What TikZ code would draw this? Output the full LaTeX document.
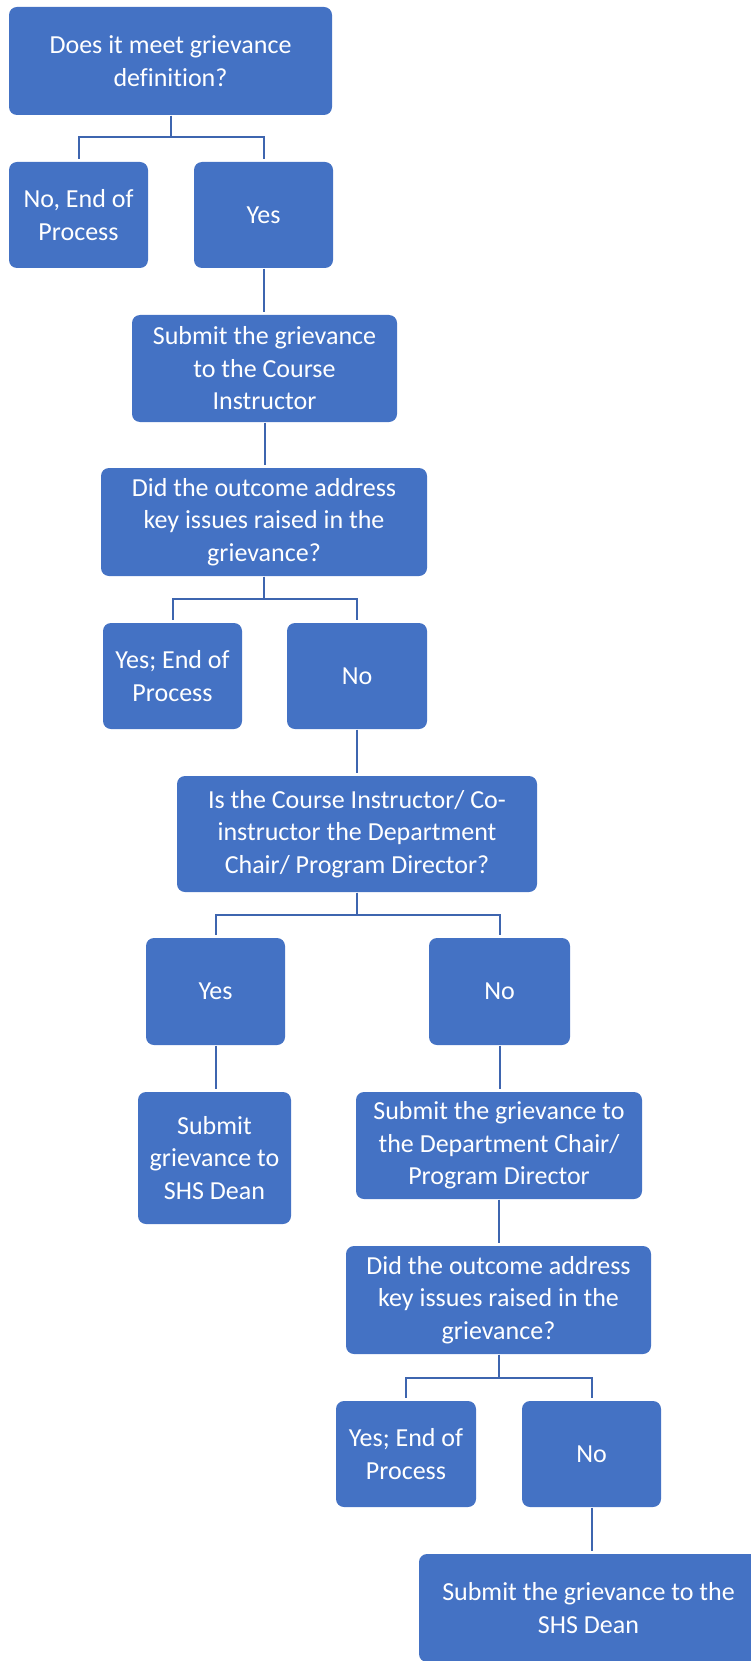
\documentclass[tikz,border=0pt]{standalone}
\usepackage{fontspec}
\setmainfont[Ligatures=NoCommon]{Carlito}
\definecolor{boxblue}{HTML}{4472C4}
\definecolor{lineblue}{HTML}{3E65AF}
\begin{document}
\begin{tikzpicture}[x=1pt,y=-1pt,
  box/.style={fill=boxblue, rounded corners=8pt, text=white, align=center,
    inner sep=0pt, font=\fontsize{26}{32.5}\selectfont},
  conn/.style={draw=lineblue, line width=2pt, shorten >=2.5pt, shorten <=0.5pt}]
\useasboundingbox (0,0) rectangle (751,1661);
\node[box, minimum width=323pt, minimum height=108pt] (q1) at (170.5,61) {Does it meet grievance\\definition?};
\node[box, minimum width=139pt, minimum height=106pt] (n1) at (78.5,215) {No, End of\\Process};
\node[box, minimum width=139pt, minimum height=106pt] (y1) at (263.5,215) {Yes};
\node[box, minimum width=265pt, minimum height=107pt] (s1) at (264.5,368.5) {Submit the grievance\\to the Course\\Instructor};
\node[box, minimum width=326pt, minimum height=108pt] (q2) at (264,522) {Did the outcome address\\key issues raised in the\\grievance?};
\node[box, minimum width=139pt, minimum height=106pt] (y2) at (172.5,676) {Yes; End of\\Process};
\node[box, minimum width=140pt, minimum height=106pt] (n2) at (357,676) {No};
\node[box, minimum width=360pt, minimum height=116pt] (q3) at (357,834) {Is the Course Instructor/ Co-\\instructor the Department\\Chair/ Program Director?};
\node[box, minimum width=139pt, minimum height=107pt] (y3) at (215.5,991.5) {Yes};
\node[box, minimum width=141pt, minimum height=107pt] (n3) at (499.5,991.5) {No};
\node[box, minimum width=153pt, minimum height=132pt] (s2) at (214.5,1158) {Submit\\grievance to\\SHS Dean};
\node[box, minimum width=286pt, minimum height=107pt] (s3) at (499,1145.5) {Submit the grievance to\\the Department Chair/\\Program Director};
\node[box, minimum width=305pt, minimum height=108pt] (q4) at (498.5,1300) {Did the outcome address\\key issues raised in the\\grievance?};
\node[box, minimum width=140pt, minimum height=106pt] (y4) at (406,1454) {Yes; End of\\Process};
\node[box, minimum width=139pt, minimum height=106pt] (n4) at (591.5,1454) {No};
\node[box, minimum width=339pt, minimum height=108pt] (s4) at (588.5,1608) {Submit the grievance to the\\SHS Dean};
% connectors
\draw[conn] (q1.south) -- ++(0,22) -| (n1.north);
\draw[conn] (q1.south) -- ++(0,22) -| (y1.north);
\draw[conn] (y1.south) -- (y1.south |- s1.north);
\draw[conn] (s1.south) -- (s1.south |- q2.north);
\draw[conn] (q2.south) -- ++(0,23) -| (y2.north);
\draw[conn] (q2.south) -- ++(0,23) -| (n2.north);
\draw[conn] (n2.south) -- (n2.south |- q3.north);
\draw[conn] (q3.south) -- ++(0,23) -| (y3.north);
\draw[conn] (q3.south) -- ++(0,23) -| (n3.north);
\draw[conn] (y3.south) -- (y3.south |- s2.north);
\draw[conn] (n3.south) -- (n3.south |- s3.north);
\draw[conn] (s3.south) -- (s3.south |- q4.north);
\draw[conn] (q4.south) -- ++(0,24) -| (y4.north);
\draw[conn] (q4.south) -- ++(0,24) -| (n4.north);
\draw[conn] (n4.south) -- (n4.south |- s4.north);
\end{tikzpicture}
\end{document}
